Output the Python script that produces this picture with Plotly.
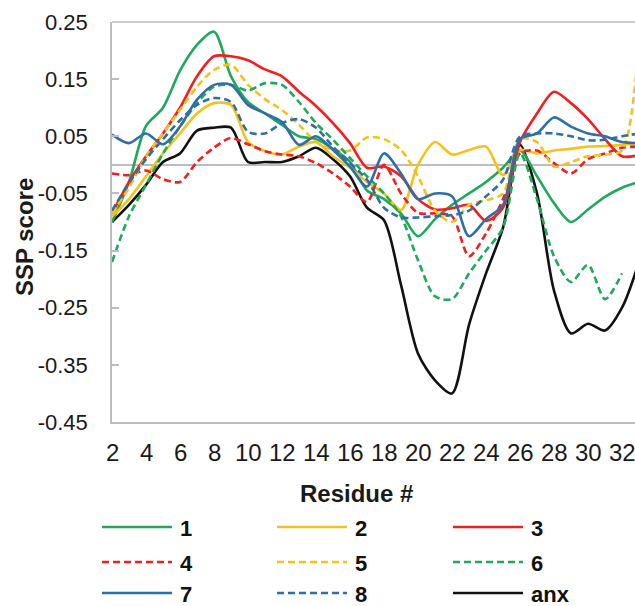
import plotly.graph_objects as go

residues = list(range(2, 34))
residues_6 = list(range(2, 33))

s1 = [-0.10, -0.03, 0.068, 0.10, 0.165, 0.21, 0.233, 0.155, 0.11, 0.09, 0.07, 0.05, 0.045, 0.028, 0.005,
      -0.045, -0.06, -0.085, -0.125, -0.095, -0.07, -0.05, -0.03, -0.005, 0.025, -0.02, -0.067, -0.10,
      -0.078, -0.056, -0.04, -0.03]
s2 = [-0.09, -0.06, -0.02, 0.02, 0.055, 0.09, 0.108, 0.105, 0.04, 0.024, 0.018, 0.032, 0.04, 0.015, -0.005,
      -0.03, -0.05, -0.079, 0.0, 0.04, 0.018, 0.026, 0.032, -0.018, 0.026, 0.02, 0.025, 0.028, 0.032,
      0.033, 0.035, 0.038]
s3 = [-0.085, -0.03, 0.015, 0.055, 0.10, 0.155, 0.19, 0.19, 0.183, 0.167, 0.155, 0.128, 0.103, 0.073, 0.038,
      -0.005, -0.003, -0.02, -0.06, -0.078, -0.076, -0.07, -0.098, -0.075, 0.04, 0.09, 0.128, 0.108, 0.08,
      0.045, 0.015, 0.017]
s4 = [-0.015, -0.018, -0.01, -0.025, -0.03, 0.005, 0.03, 0.047, 0.036, 0.024, 0.018, 0.015, 0.003, -0.015,
      -0.038, -0.065, 0.0, -0.05, -0.084, -0.085, -0.09, -0.16, -0.12, -0.06, 0.02, 0.025, 0.003, -0.015,
      0.01, 0.02, 0.03, 0.032]
s5 = [-0.085, -0.04, 0.015, 0.055, 0.096, 0.137, 0.166, 0.175, 0.14, 0.115, 0.096, 0.07, 0.04, 0.026, 0.025,
      0.048, 0.045, 0.026, -0.02, -0.08, -0.10, -0.07, -0.062, -0.05, 0.045, 0.04, -0.003, 0.005, 0.015,
      0.018, 0.025, 0.22]
s6 = [-0.17, -0.09, -0.035, 0.02, 0.067, 0.108, 0.137, 0.14, 0.13, 0.143, 0.14, 0.11, 0.073, 0.044, 0.012,
      -0.02, -0.05, -0.09, -0.167, -0.23, -0.235, -0.19, -0.15, -0.11, 0.02, -0.06, -0.16, -0.205, -0.175,
      -0.235, -0.19]
s7 = [0.053, 0.038, 0.055, 0.036, 0.067, 0.114, 0.14, 0.14, 0.105, 0.09, 0.075, 0.035, 0.05, 0.026, -0.003,
      -0.038, 0.02, -0.015, -0.06, -0.05, -0.055, -0.125, -0.095, -0.07, 0.045, 0.055, 0.083, 0.067, 0.055,
      0.05, 0.04, 0.038]
s8 = [-0.08, -0.032, 0.01, 0.045, 0.078, 0.105, 0.117, 0.11, 0.058, 0.055, 0.073, 0.08, 0.065, 0.032, 0.003,
      -0.026, -0.075, -0.092, -0.092, -0.09, -0.088, -0.08, -0.055, -0.026, 0.05, 0.055, 0.055, 0.05, 0.043,
      0.044, 0.05, 0.055]
anx = [-0.10, -0.07, -0.035, 0.005, 0.02, 0.06, 0.065, 0.065, 0.005, 0.005, 0.005, 0.015, 0.03, 0.01, -0.02,
       -0.075, -0.097, -0.21, -0.33, -0.377, -0.40, -0.28, -0.19, -0.11, 0.035, -0.05, -0.22, -0.295, -0.278,
       -0.29, -0.25, -0.17]

names = ["1", "2", "3", "4", "5", "6", "7", "8", "anx"]
x_tick_vals = list(range(2, 33, 2))
y_tick_vals = [0.25, 0.15, 0.05, -0.05, -0.15, -0.25, -0.35, -0.45]
y_tick_text = ["0.25", "0.15", "0.05", "-0.05", "-0.15", "-0.25", "-0.35", "-0.45"]

GREEN = "#1fa95a"
YELLOW = "#f7c11a"
RED = "#f51d1d"
BLUE = "#2f6ea6"
BLACK = "#111111"
DASH = "7px,4px"

styles = [
    (GREEN, "solid"), (YELLOW, "solid"), (RED, "solid"),
    (RED, DASH), (YELLOW, DASH), (GREEN, DASH),
    (BLUE, "solid"), (BLUE, DASH), (BLACK, "solid"),
]
series = [s1, s2, s3, s4, s5, s6, s7, s8, anx]
xs = [residues] * 5 + [residues_6] + [residues] * 3

fig = go.Figure()
order = [8, 0, 1, 2, 3, 4, 5, 6, 7]
for i in order:
    col, dash = styles[i]
    fig.add_trace(go.Scatter(
        x=xs[i], y=series[i], mode="lines", name=names[i],
        line=dict(color=col, width=2.6, dash=dash, shape="spline", smoothing=0.8),
        showlegend=False,
    ))

W, H = 635, 606
L, R, T, B = 112, 635, 22, 422
xmax = 2 + (R - L) / 17.0

FONT = "Liberation Sans, Arial, sans-serif"
GRAY = "#bdbdbd"
TXT = "#1a1a1a"

fig.update_layout(
    width=W, height=H,
    margin=dict(l=L, r=W - R, t=T, b=H - B, pad=0),
    paper_bgcolor="white", plot_bgcolor="white",
    font=dict(family=FONT, color=TXT),
    xaxis=dict(range=[2, xmax], tickvals=x_tick_vals, ticks="", showgrid=False,
               zeroline=False, showline=True, linecolor=GRAY, linewidth=1.5,
               showticklabels=False),
    yaxis=dict(range=[-0.45, 0.25], tickvals=y_tick_vals, ticktext=y_tick_text,
               ticks="inside", ticklen=7, tickcolor=GRAY, tickwidth=1.5, showgrid=False,
               zeroline=True, zerolinecolor=GRAY, zerolinewidth=1.5,
               showline=True, linecolor=GRAY, linewidth=1.5,
               tickfont=dict(size=22, family=FONT, color=TXT), ticklabelstandoff=18),
)

# top border
fig.add_shape(type="line", xref="paper", yref="paper", x0=0, x1=1, y0=1, y1=1,
              line=dict(color=GRAY, width=1.5))


def px2paper(px, py):
    return (px - L) / (R - L), (B - py) / (B - T)


# x tick labels (as annotations so the last one may run to the edge like the reference)
_, tick_y = px2paper(0, 452)
for v in x_tick_vals:
    fig.add_annotation(x=v, y=tick_y, xref="x", yref="paper", text=str(v), showarrow=False,
                       xanchor="center", yanchor="middle",
                       font=dict(size=24, family=FONT, color=TXT))

# axis titles
ax, ay = px2paper(24, 237)
fig.add_annotation(x=ax, y=ay, xref="paper", yref="paper", text="<b>SSP score</b>",
                   textangle=-90, showarrow=False, font=dict(size=24, family=FONT, color=TXT),
                   xanchor="center", yanchor="middle")
ax, ay = px2paper(356, 493)
fig.add_annotation(x=ax, y=ay, xref="paper", yref="paper", text="<b>Residue #</b>",
                   showarrow=False, font=dict(size=24, family=FONT, color=TXT),
                   xanchor="center", yanchor="middle")

# manual legend
col_x = [102, 277, 453]
row_y = [527, 562, 593]
line_len = 70
for idx in range(9):
    r, c = divmod(idx, 3)
    colr, dash = styles[idx]
    x0, y0 = px2paper(col_x[c], row_y[r])
    x1, _ = px2paper(col_x[c] + line_len, row_y[r])
    fig.add_shape(type="line", xref="paper", yref="paper", x0=x0, x1=x1, y0=y0, y1=y0,
                  line=dict(color=colr, width=2.6, dash=dash))
    tx, ty = px2paper(col_x[c] + line_len + 6, row_y[r] + 1)
    fig.add_annotation(x=tx, y=ty, xref="paper", yref="paper", text="<b>%s</b>" % names[idx],
                       showarrow=False, xanchor="left", yanchor="middle",
                       font=dict(size=22, family=FONT, color="#111111"))

fig.write_html("out.html")
